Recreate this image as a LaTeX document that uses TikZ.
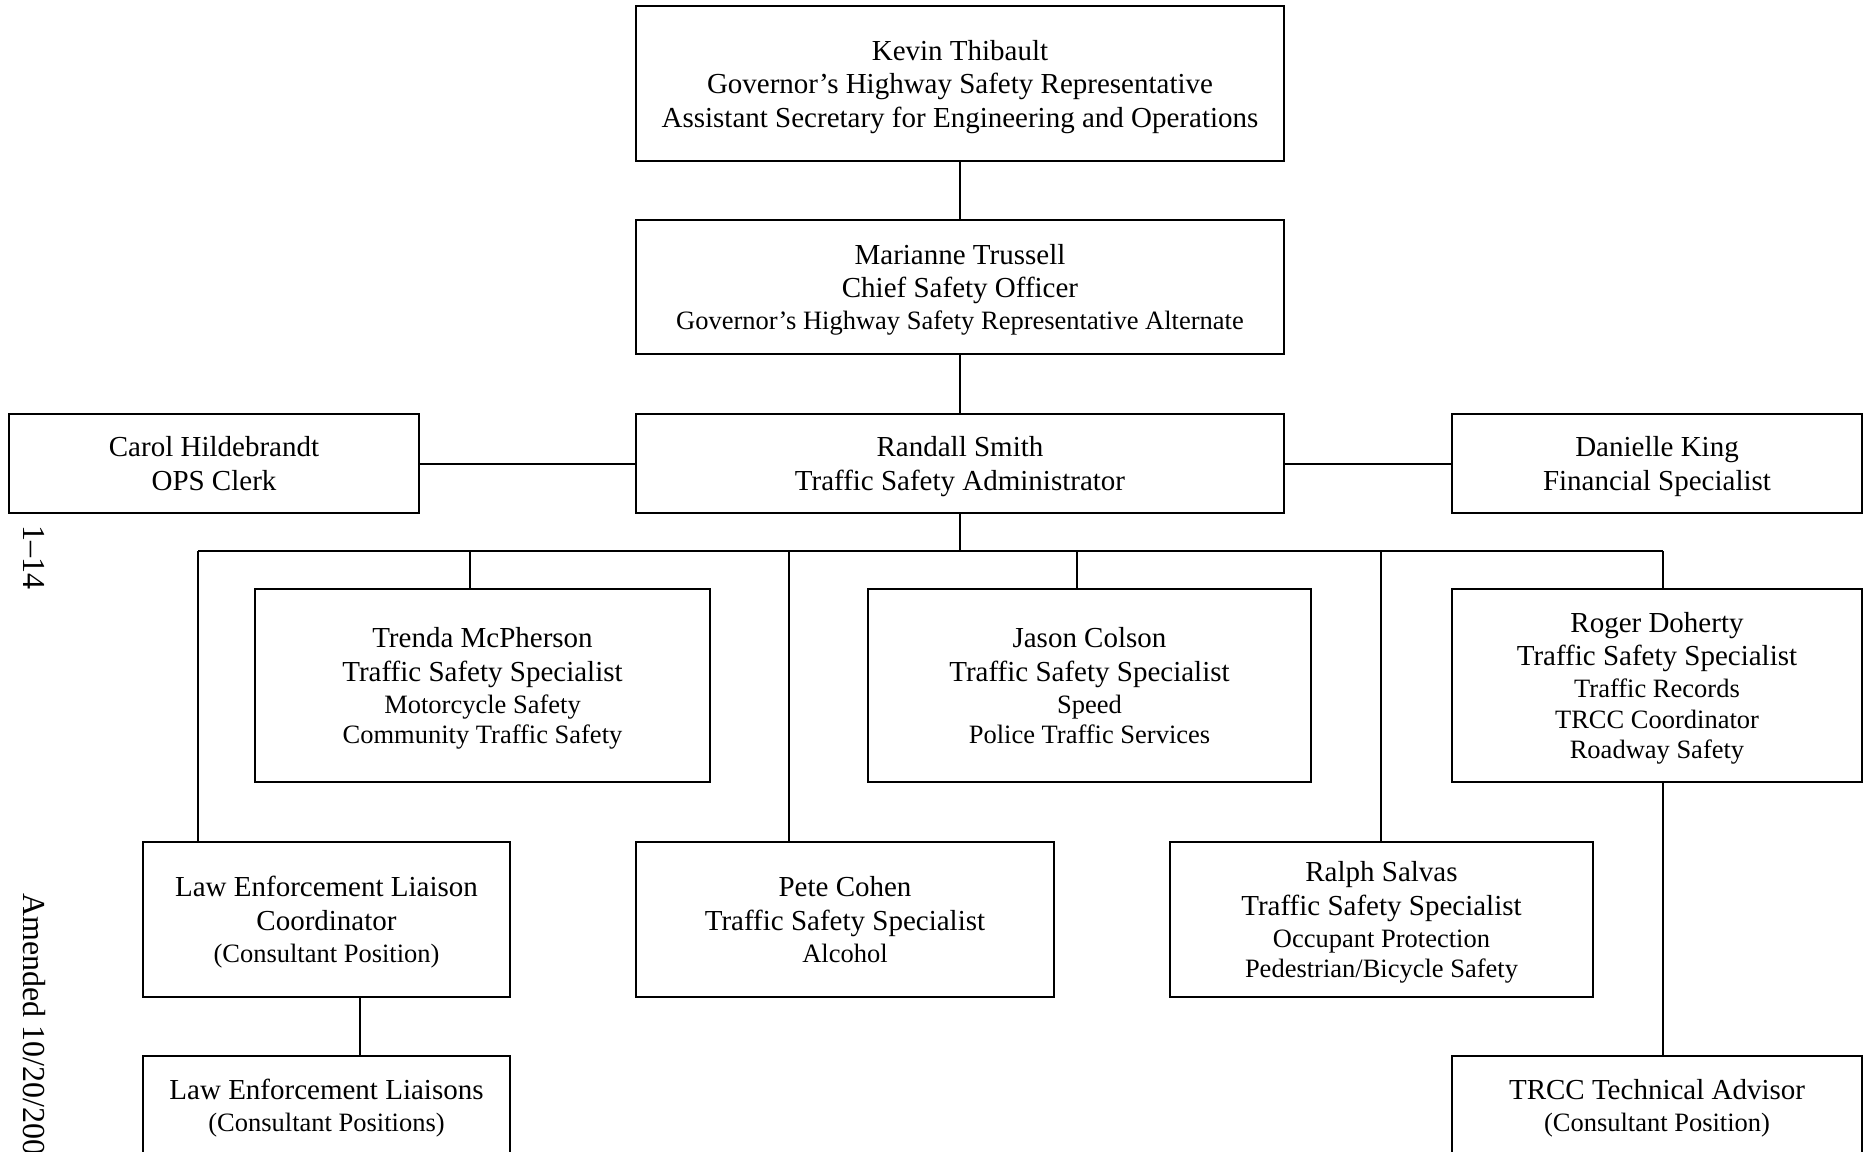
\documentclass[tikz,border=0pt]{standalone}
\usepackage{fontspec}
\setmainfont{Liberation Serif}
\newcommand\bigf{\fontsize{29}{33.5}\selectfont}
\newcommand\smf{\fontsize{26.5}{30.5}\selectfont}
\begin{document}
\begin{tikzpicture}[x=1pt,y=-1pt,
  box/.style={draw, line width=2.2pt, rectangle, inner sep=0pt, outer sep=0pt, align=center, font=\bigf, text depth=0pt},
  conn/.style={line width=2pt},
  side/.style={rotate=-90, inner sep=0pt, font=\fontsize{32}{36}\selectfont}]
\clip (0,0) rectangle (1868,1151);
\fill[white] (0,0) rectangle (1868,1151);

% boxes
\node[box, minimum width=648pt, minimum height=155pt] (kevin) at (960,83.5)
  {Kevin Thibault\\Governor’s Highway Safety Representative\\Assistant Secretary for Engineering and Operations};
\node[box, minimum width=648pt, minimum height=134pt] (mari) at (960,287)
  {Marianne Trussell\\Chief Safety Officer\\[-1.5pt]{\smf Governor’s Highway Safety Representative Alternate}};
\node[box, minimum width=648pt, minimum height=99pt] (rand) at (960,463.5)
  {Randall Smith\\Traffic Safety Administrator};
\node[box, minimum width=410pt, minimum height=99pt] (carol) at (214,463.5)
  {Carol Hildebrandt\\OPS Clerk};
\node[box, minimum width=410pt, minimum height=99pt] (dani) at (1657,463.5)
  {Danielle King\\Financial Specialist};
\node[box, minimum width=455pt, minimum height=193pt] (trenda) at (482.5,685.5)
  {Trenda McPherson\\Traffic Safety Specialist\\[-1.5pt]{\smf Motorcycle Safety}\\[-3pt]{\smf Community Traffic Safety}};
\node[box, minimum width=443pt, minimum height=193pt] (jason) at (1089.5,685.5)
  {Jason Colson\\Traffic Safety Specialist\\[-1.5pt]{\smf Speed}\\[-3pt]{\smf Police Traffic Services}};
\node[box, minimum width=410pt, minimum height=193pt] (roger) at (1657,685.5)
  {Roger Doherty\\Traffic Safety Specialist\\[-1.5pt]{\smf Traffic Records}\\[-3pt]{\smf TRCC Coordinator}\\[-3pt]{\smf Roadway Safety}};
\node[box, minimum width=367pt, minimum height=155pt] (lec) at (326.5,919.5)
  {Law Enforcement Liaison\\Coordinator\\[-1.5pt]{\smf (Consultant Position)}};
\node[box, minimum width=418pt, minimum height=155pt] (pete) at (845,919.5)
  {Pete Cohen\\Traffic Safety Specialist\\[-1.5pt]{\smf Alcohol}};
\node[box, minimum width=423pt, minimum height=155pt] (ralph) at (1381.5,919.5)
  {Ralph Salvas\\Traffic Safety Specialist\\[-1.5pt]{\smf Occupant Protection}\\[-3pt]{\smf Pedestrian/Bicycle Safety}};
\node[box, minimum width=367pt, minimum height=99pt] (lel) at (326.5,1105.5)
  {Law Enforcement Liaisons\\[-1.5pt]{\smf (Consultant Positions)}};
\node[box, minimum width=410pt, minimum height=99pt] (trcc) at (1657,1105.5)
  {TRCC Technical Advisor\\[-1.5pt]{\smf (Consultant Position)}};

% connectors
\draw[conn] (kevin.south) -- (mari.north);
\draw[conn] (mari.south) -- (rand.north);
\draw[conn] (rand.west) -- (carol.east);
\draw[conn] (rand.east) -- (dani.west);

\coordinate (bus) at (960,551);
\coordinate (jL) at (198,551);
\coordinate (jT) at (470,551);
\coordinate (jP) at (789,551);
\coordinate (jJ) at (1077,551);
\coordinate (jS) at (1381,551);
\coordinate (jR) at (1663,551);
\draw[conn] (rand.south) -- (bus);
\draw[conn] (jL) -- (jR);
\draw[conn] (jL) -- (jL |- lec.north);
\draw[conn] (jT) -- (jT |- trenda.north);
\draw[conn] (jP) -- (jP |- pete.north);
\draw[conn] (jJ) -- (jJ |- jason.north);
\draw[conn] (jS) -- (jS |- ralph.north);
\draw[conn] (jR) -- (jR |- roger.north);
\draw[conn] (jR |- roger.south) -- (jR |- trcc.north);
\draw[conn] ([xshift=33.5pt]lec.south) -- ([xshift=33.5pt]lel.north);

% side texts
\node[side] (pagenum) at (34,557) {1–14};
\node[side, anchor=west] (amended) at (34,893) {Amended 10/20/200};
\end{tikzpicture}
\end{document}
